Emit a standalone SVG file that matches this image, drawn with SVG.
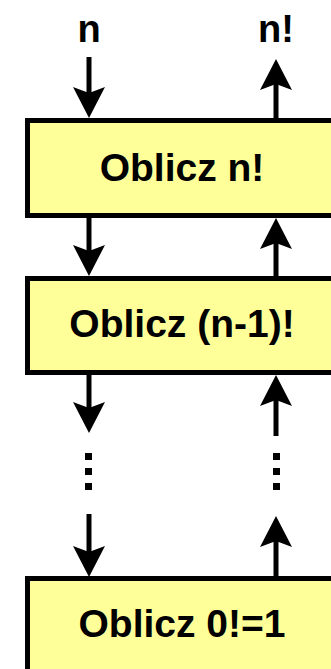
<svg xmlns="http://www.w3.org/2000/svg" width="331" height="669" viewBox="0 0 331 669">
<style>
.box{fill:#FFFF99;stroke:#000;stroke-width:5}
.lbl{font-family:"Liberation Sans",Arial,sans-serif;font-weight:bold;fill:#000;text-anchor:middle}
.t{font-size:39px}
.io{font-size:38px}
.ln{stroke:#000;stroke-width:5;fill:none}
.dot{stroke:#000;stroke-width:7;stroke-dasharray:7 8;fill:none}
</style>
<defs>
<path id="head" d="M0,0 L-16,-31 L0,-25 L16,-31 Z" fill="#000"/>
</defs>
<rect width="331" height="669" fill="#fff"/>
<g id="labels">
<text class="lbl io" x="89" y="42">n</text>
<text class="lbl io" x="276" y="42">n!</text>
</g>
<g id="node1">
<rect class="box" x="27.5" y="120.5" width="320" height="95"/>
<text class="lbl t" x="182" y="181">Oblicz n!</text>
</g>
<g id="node2">
<rect class="box" x="27.5" y="278.5" width="320" height="94"/>
<text class="lbl t" x="182" y="337">Oblicz (n-1)!</text>
</g>
<g id="node3">
<rect class="box" x="27.5" y="578.5" width="320" height="120"/>
<text class="lbl t" x="182" y="637">Oblicz 0!=1</text>
</g>
<g id="connectors">
<line class="ln" x1="89" y1="57" x2="89" y2="100"/>
<use href="#head" transform="translate(89,118)"/>
<line class="ln" x1="276" y1="120" x2="276" y2="80"/>
<use href="#head" transform="translate(276,59) rotate(180)"/>
<line class="ln" x1="89" y1="218" x2="89" y2="258"/>
<use href="#head" transform="translate(89,276)"/>
<line class="ln" x1="276" y1="278" x2="276" y2="238"/>
<use href="#head" transform="translate(276,218) rotate(180)"/>
<line class="ln" x1="89" y1="375" x2="89" y2="415"/>
<use href="#head" transform="translate(89,433)"/>
<line class="ln" x1="276" y1="436" x2="276" y2="395"/>
<use href="#head" transform="translate(276,375) rotate(180)"/>
<line class="dot" x1="88.5" y1="453" x2="88.5" y2="491"/>
<line class="dot" x1="276.5" y1="453" x2="276.5" y2="491"/>
<line class="ln" x1="89" y1="514" x2="89" y2="560"/>
<use href="#head" transform="translate(89,577)"/>
<line class="ln" x1="276" y1="578" x2="276" y2="535"/>
<use href="#head" transform="translate(276,516) rotate(180)"/>
</g>
</svg>
